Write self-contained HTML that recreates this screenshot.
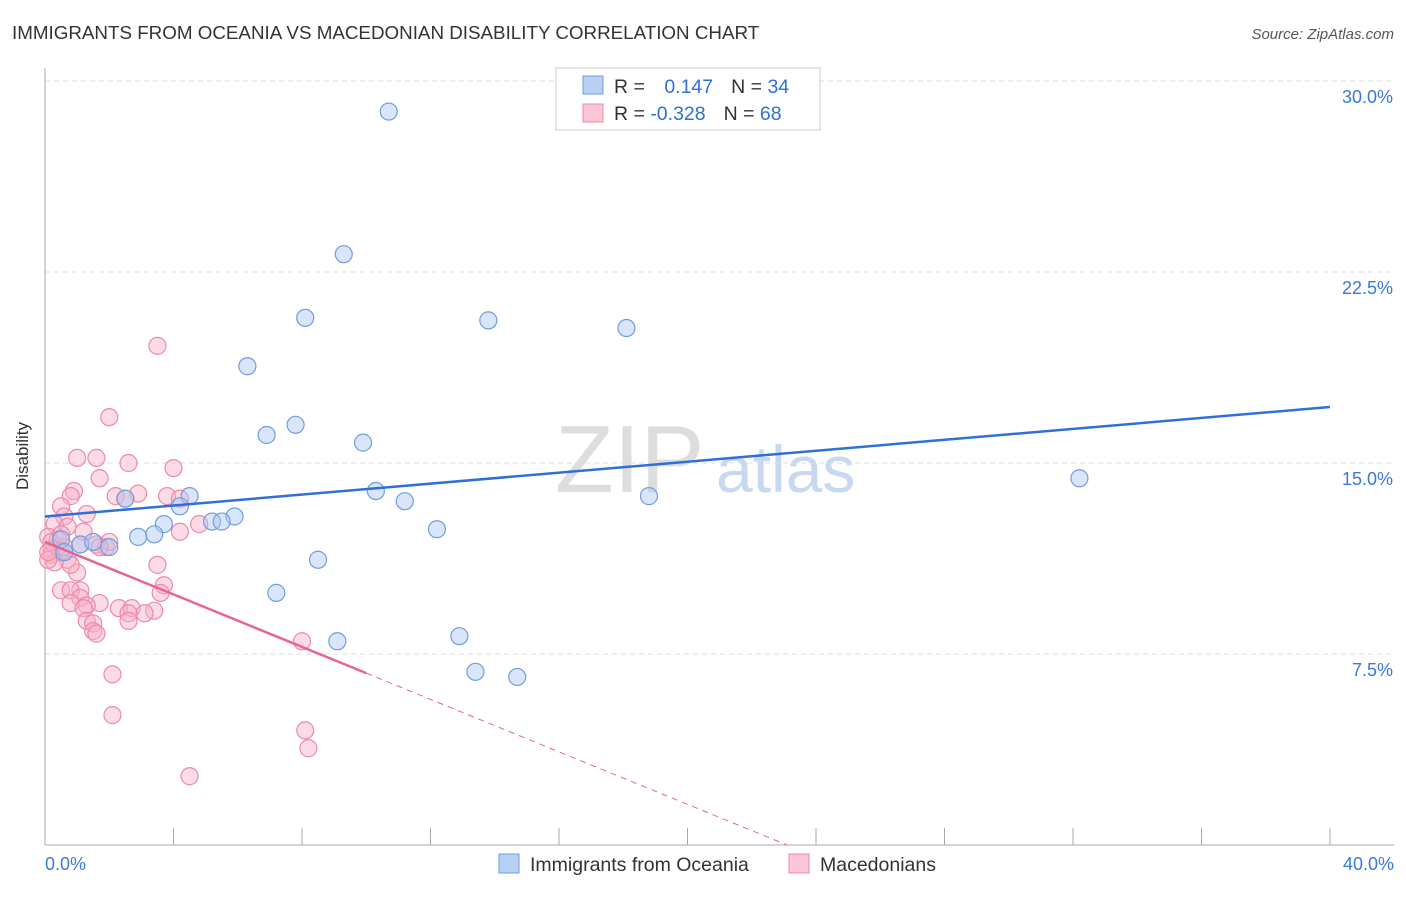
<!DOCTYPE html>
<html><head><meta charset="utf-8"><style>
body{margin:0;background:#fff;font-family:"Liberation Sans",sans-serif}
svg text{font-family:"Liberation Sans",sans-serif}
</style></head><body>
<svg id="c" width="1406" height="892" xmlns="http://www.w3.org/2000/svg">
<text x="12" y="39" font-size="18.8" fill="#333">IMMIGRANTS FROM OCEANIA VS MACEDONIAN DISABILITY CORRELATION CHART</text>
<text x="1394" y="39" font-size="15" fill="#555" font-style="italic" text-anchor="end">Source: ZipAtlas.com</text>
<text x="28" y="456" font-size="17" fill="#333" text-anchor="middle" transform="rotate(-90 28 456)">Disability</text>
<text x="555" y="492" font-size="96" fill="#ddd" font-family="Liberation Serif">ZIP</text>
<text x="716" y="492" font-size="66" fill="#c8d8f0">atlas</text>
<g id="grid"></g><g id="marks"></g>
<g>
<rect x="556" y="68" width="264" height="62" fill="#fff" stroke="#ccc"/>
<rect x="583" y="76" width="20" height="18" fill="#b8d0f4" stroke="#6f9de0"/>
<rect x="583" y="104" width="20" height="18" fill="#f9c6d4" stroke="#ee8aa8"/>
<text x="614" y="93" font-size="19.5" fill="#333">R = <tspan fill="#2e6fd8" dx="14">0.147</tspan><tspan dx="18" fill="#333">N = </tspan><tspan fill="#2e6fd8">34</tspan></text>
<text x="614" y="120" font-size="19.5" fill="#333">R = <tspan fill="#2e6fd8">-0.328</tspan><tspan dx="18" fill="#333">N = </tspan><tspan fill="#2e6fd8">68</tspan></text>
</g>
<g>
<rect x="499" y="854" width="20" height="19" fill="#b8d0f4" stroke="#6f9de0"/>
<text x="530" y="871" font-size="19.5" fill="#333">Immigrants from Oceania</text>
<rect x="789" y="854" width="20" height="19" fill="#f9c6d4" stroke="#ee8aa8"/>
<text x="820" y="871" font-size="19.5" fill="#333">Macedonians</text>
</g>
</svg>
<script>
const xTicks=[0,4,8,12,16,20,24,28,32,36,40];
const yTicks=[7.5,15,22.5,30];
const blueXs=[10.7,9.3,8.1,13.8,18.1,6.3,7.8,6.9,9.9,32.2,4.5,10.3,2.5,18.8,11.2,4.2,5.9,5.2,5.5,3.7,12.2,3.4,2.9,0.5,1.1,1.5,2.0,8.5,7.2,12.9,9.1,13.4,14.7,0.6];
const blueYs=[28.8,23.2,20.7,20.6,20.3,18.8,16.5,16.1,15.8,14.4,13.7,13.9,13.6,13.7,13.5,13.3,12.9,12.7,12.7,12.6,12.4,12.2,12.1,12.0,11.8,11.9,11.7,11.2,9.9,8.2,8.0,6.8,6.6,11.5];
const pinkXs=[3.5,2.0,1.0,1.6,2.6,4.0,1.7,0.9,0.8,2.2,2.9,3.8,4.2,0.5,1.3,0.6,4.8,0.3,0.7,1.2,4.2,0.1,0.4,1.1,1.6,1.9,0.2,0.5,0.2,0.7,0.3,0.1,3.5,1.0,3.7,0.5,1.1,0.8,3.6,1.1,0.8,1.7,1.3,2.3,2.7,3.4,2.6,3.1,1.2,1.3,1.5,2.6,1.5,1.6,8.0,2.1,2.1,8.1,8.2,4.5,0.2,0.1,0.6,0.5,2.0,1.7,0.8,2.5];
const pinkYs=[19.6,16.8,15.2,15.2,15.0,14.8,14.4,13.9,13.7,13.7,13.8,13.7,13.6,13.3,13.0,12.9,12.6,12.6,12.5,12.3,12.3,12.1,12.0,11.8,11.8,11.7,11.6,11.5,11.4,11.2,11.1,11.2,11.0,10.7,10.2,10.0,10.0,10.0,9.9,9.7,9.5,9.5,9.4,9.3,9.3,9.2,9.1,9.1,9.3,8.8,8.7,8.8,8.4,8.3,8.0,6.7,5.1,4.5,3.8,2.7,11.9,11.5,11.7,12.2,11.9,11.7,11.0,13.6];
const blueTrend=[12.9,17.2];
const pinkTrend=[11.9,0];
const NS='http://www.w3.org/2000/svg';
const X=v=>45+v/40*1285, Y=v=>845-v/7.5*191;
function mk(t,a,p){const e=document.createElementNS(NS,t);for(const k in a)e.setAttribute(k,a[k]);p.appendChild(e);return e;}
const g=document.getElementById('grid'), m=document.getElementById('marks');
yTicks.forEach(t=>{
 const l=mk('line',{x1:45,x2:1394,y1:Y(t),y2:Y(t),stroke:'#ddd','stroke-dasharray':'5,4'},g);
 
 
 const tx=mk('text',{x:1393,y:Y(t)+22,'font-size':18,fill:'#3b78dc','text-anchor':'end'},g);tx.textContent=t.toFixed(1)+'%';
 
 
});
mk('line',{x1:45,x2:45,y1:68,y2:845,stroke:'#aaa'},g);
mk('line',{x1:45,x2:1394,y1:845,y2:845,stroke:'#aaa'},g);
xTicks.forEach(t=>{
 const l=mk('line',{x1:X(t),x2:X(t),y1:828,y2:845,stroke:'#aaa'},g);
 
 
});
[[0,45,'start'],[40,1394,'end']].forEach(([v,x,a])=>{const t=mk('text',{x:x,y:870,'font-size':18,fill:'#3b78dc','text-anchor':a},g);t.textContent=v.toFixed(1)+'%';
 
 });
pinkXs.forEach((x,i)=>{const c=mk('circle',{cx:X(x),cy:Y(pinkYs[i]),r:8.5,fill:'rgba(247,176,198,0.45)',stroke:'#ee8aa8','stroke-width':1.2},m);
 
 });
blueXs.forEach((x,i)=>{const c=mk('circle',{cx:X(x),cy:Y(blueYs[i]),r:8.5,fill:'rgba(170,200,244,0.45)',stroke:'#6f9de0','stroke-width':1.2},m);
 
 });
const bl=mk('line',{x1:X(0),y1:Y(blueTrend[0]),x2:X(40),y2:Y(blueTrend[1]),stroke:'#2e6fd8','stroke-width':2.5},m);


const pe=x=>pinkTrend[0]+(pinkTrend[1]-pinkTrend[0])*x/23.1;
const pl=mk('line',{x1:X(0),y1:Y(pe(0)),x2:X(10),y2:Y(pe(10)),stroke:'#e8648f','stroke-width':2.5},m);


const pd=mk('line',{x1:X(10),y1:Y(pe(10)),x2:X(23.1),y2:Y(pe(23.1)),stroke:'#e8648f','stroke-width':1,'stroke-dasharray':'6,5'},m);


</script>
</body></html>
